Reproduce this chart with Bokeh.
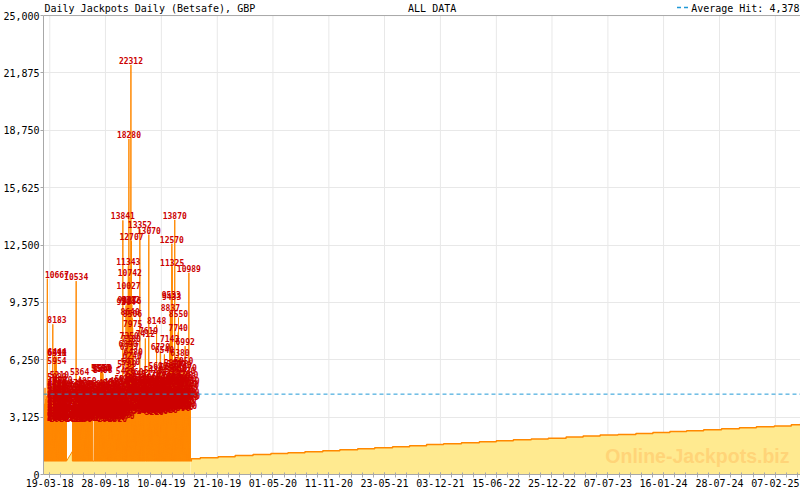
import numpy as np
import pandas as pd
from bokeh.core.properties import value
from bokeh.embed import file_html
from bokeh.models import (ColumnDataSource, DatetimeTickFormatter, FixedTicker,
                          Label, NumeralTickFormatter, Range1d, Span)
from bokeh.plotting import figure
from bokeh.resources import INLINE

#===========================
#       Data
seed = 730          # value the jackpot restarts from after a hit
avg_hit = 4378

#-- daily hits, one value per day starting at the segment date
seg_a_start = "2018-02-27"
seg_a_hits = [
    3120, 3850, 3560, 4720, 2980, 4110, 3430, 2870, 4260, 3190,
    3680, 10667, 3040, 4490, 3310, 2910, 5080, 3870, 3250, 2840,
    4010, 3480, 4630, 3150, 4320, 2950, 3620, 4180, 2890, 3930,
    8183, 3300, 4540, 3070, 4760, 3410, 4060, 6444, 6391, 3740,
    5954, 3220, 6418, 3820, 2860, 4850, 3530, 4230, 3010, 4370,
    3160, 3970, 2820, 5210, 3380, 3710, 2960, 4140, 3590, 4690,
    3090, 4280, 2880, 3880, 3460, 4930, 3200, 3760, 3330, 4420,
    2930, 4090, 3610, 4580, 3050, 3950, 3400, 4210,
]

#-- no hit for three weeks, the jackpot creeps up
gap_dates = ["2018-05-16", "2018-06-05"]
gap_values = [730, 1250]

seg_b_start = "2018-06-06"
seg_b_hits = [
    3510, 4040, 2900, 4530, 3240, 3870, 3350, 4660, 2810, 3990,
    3420, 4150, 10534, 3020, 4410, 3560, 3780, 3150, 4790, 3290,
    3910, 2850, 4300, 3210, 5364, 3640, 2970, 4220, 3370, 4080,
    3080, 4610, 3470, 3820, 2830, 4350, 3260, 3960, 3140, 4720,
    3390, 3720, 2920, 4460, 3230, 3890, 3510, 4270, 3010, 4850,
    3300, 3750, 3580, 4120, 2880, 4380, 3170, 3990, 3440, 4650,
    3110, 3860, 3340, 4190, 2860, 4510, 3490, 3790, 3220,
]

seg_c_start = "2018-08-20"
seg_c_hits = [
    3190, 3820, 2990, 4340, 3310, 3680, 4690, 3070, 4060, 3470,
    4210, 2870, 3910, 3360, 4580, 3140, 3750, 3540, 4400, 2960,
    3980, 3620, 5556, 3840, 5581, 3290, 5534, 4510, 5569, 3430,
    5498, 3700, 3030, 4290, 3250, 4090, 2880, 4620, 3480, 3870,
    3160, 4450, 3380, 3780, 2800, 4170, 3590, 4760, 3090, 3940,
    3330, 4360, 2990, 4030, 3510, 4640, 3200, 3660, 3410, 4230,
    2850, 4520, 3280, 3980, 3620, 4810, 3120, 3810, 3490, 4290,
    3050, 4140, 3360, 4700, 2940, 3730, 3570, 4420, 3250, 4060,
    2820, 4260, 3450, 3860, 3190, 4880, 3330, 3750, 3660, 4470,
    3130, 3980, 3520, 4600, 3000, 4210, 3390, 3900, 3600, 13841,
    3270, 4390, 3110, 5010, 3540, 3790, 2970, 4320, 5420, 4000,
    9204, 4530, 3420, 5780, 9287, 4960, 4210, 6890, 11343, 10027,
    18280, 7350, 6717, 10742, 8640, 5910, 9312, 22312, 7180, 12707,
    9256, 6240, 8506, 7975, 4830, 6480, 4450, 5360, 3760, 4920,
    3620, 4280, 4700, 3400, 4170, 5240, 3510, 4510, 3890, 5030,
    3320, 4420, 3740, 4860, 3570, 4350, 3990, 4620, 13352, 4090,
    3470, 4730, 3850, 4260, 3240, 5120, 3660, 4470, 3400, 3960,
    4780, 3610, 4180, 3350, 4400, 4930, 3770, 7412, 3530, 4310,
]

seg_d_start = "2019-02-18"
seg_d_hits = [
    3940, 3520, 4810, 3700, 3360, 4530, 7619, 13070, 4040, 4750,
    3420, 4230, 4960, 3590, 4450, 3290, 5270, 3900, 3500, 4160,
    4610, 3380, 4090, 5480, 3620, 4320, 3210, 4840, 3780, 4470,
    3480, 5020, 3930, 3330, 8148, 4180, 4690, 3550, 4260, 5690,
    3250, 4400, 3770, 4910, 3430, 4540, 3890, 6720, 3510, 4640,
    4030, 3390, 5170, 3810, 4420, 3300, 4800, 3690, 4290, 3600,
    4940, 6540, 3900, 3460, 4550, 5100, 3360, 4210, 4730, 3710,
    3570, 5420, 3970, 4350, 3320, 4860, 4110, 5640, 3490, 7143,
    4280, 4880, 8837, 3770, 5310, 9533, 9433, 12570, 11325, 4550,
    5020, 3850, 5870, 3520, 4690, 4220, 5540, 13870, 4010, 4830,
    3440, 4460, 5800, 3970, 5090, 3620, 4300, 5610, 3800, 7740,
    8550, 4160, 4950, 3510, 4510, 6380, 3910, 5220, 3390, 4390,
    4770, 3710, 5730, 4210, 3560, 5040, 3980, 4600, 5950, 3460,
    4340, 4880, 3780, 6992, 4170, 5430, 3600, 4270, 4970, 3860,
    5570, 3520, 4710, 4110, 4490, 5200, 10989, 3980, 4640, 4290,
    4850, 4070,
]

#-- last hit in July 2019: since then the jackpot only grows
grow_dates = [
    "2019-07-20", "2019-07-23", "2019-08-23", "2019-10-24", "2019-12-22",
    "2020-02-22", "2020-04-24", "2020-06-22", "2020-08-20", "2020-10-21",
    "2020-12-19", "2021-02-19", "2021-04-19", "2021-06-20", "2021-08-18",
    "2021-10-16", "2021-12-14", "2022-02-14", "2022-04-17", "2022-06-15",
    "2022-08-13", "2022-10-14", "2022-12-12", "2023-02-12", "2023-04-12",
    "2023-06-10", "2023-08-11", "2023-10-12", "2023-12-10", "2024-02-07",
    "2024-04-05", "2024-06-03", "2024-08-04", "2024-10-05", "2024-12-03",
    "2025-02-03", "2025-04-03", "2025-05-05",
]
grow_values = [
    730, 857, 912, 966, 1037,
    1092, 1146, 1185, 1239, 1294,
    1348, 1403, 1457, 1512, 1567,
    1638, 1676, 1730, 1785, 1840,
    1894, 1927, 1981, 2036, 2091,
    2145, 2183, 2238, 2293, 2347,
    2385, 2440, 2494, 2549, 2604,
    2636, 2713, 2767,
]

tick_dates = [
    "2018-03-19", "2018-09-28", "2019-04-10", "2019-10-21", "2020-05-01",
    "2020-11-11", "2021-05-23", "2021-12-03", "2022-06-15", "2022-12-25",
    "2023-07-07", "2024-01-16", "2024-07-28", "2025-02-07",
]
y_ticks = [0, 3125, 6250, 9375, 12500, 15625, 18750, 21875, 25000]
y_max = 25000
x_start = "2018-02-25 05:00"
x_end = "2025-05-05 00:00"

#===========================
#       Colours / fonts
ORANGE = "#FF8800"
YELLOW = "#FFEA90"
RED = "#CC0000"
BLUE = "#2099D6"
GREY = "#A8A8A8"
GRID = "#E8E8E8"
MONO = "DejaVu Sans Mono"
DAY = 86400000.0
FRAME_W = 760
Y_PX = y_max / 458.0     # value units per pixel


def to_ms(dates):
    return pd.DatetimeIndex(pd.to_datetime(dates, format="mixed")).as_unit("ns").asi8 / 1e6


x0, x1 = to_ms([x_start, x_end])
ms_px = (x1 - x0) / FRAME_W

#-- hits placed at noon of their day
hit_x, hit_y = [], []
saw_x, saw_y = [], []


def add_hits(start, vals):
    days = to_ms(pd.date_range(start, periods=len(vals), freq="D")) + 0.5 * DAY
    for x, v in zip(days, vals):
        hit_x.append(x)
        hit_y.append(v)
        #-- the jackpot climbs from the seed to the hit, then drops back
        saw_x.extend([x - 0.9 * DAY, x, x + 0.05 * DAY])
        saw_y.extend([seed, v, seed])


add_hits(seg_a_start, seg_a_hits)
saw_x.extend(to_ms(gap_dates))
saw_y.extend(gap_values)
add_hits(seg_b_start, seg_b_hits)
add_hits(seg_c_start, seg_c_hits)
add_hits(seg_d_start, seg_d_hits)

grow_x = to_ms(grow_dates)

#-- keep value labels inside the plot area
lbl_x = [max(x, x0 + 13.5 * ms_px) for x in hit_x]
lbl_src = ColumnDataSource(data=dict(
    x=lbl_x, y=hit_y, t=[str(v) for v in hit_y]))

#===========================
#       Figure (header row lives inside the frame, above y_max)
p = figure(
    width=800, height=490,
    x_axis_type="datetime",
    x_range=Range1d(x0, x1), y_range=Range1d(0, y_max + 15 * Y_PX),
    output_backend="svg", toolbar_location=None,
    min_border_left=40, min_border_right=0,
    min_border_top=0, min_border_bottom=16,
)
p.background_fill_color = "white"
p.border_fill_color = "white"
p.outline_line_color = None

tick_ms = to_ms(tick_dates)
p.xgrid.visible = False
p.segment(x0=tick_ms, y0=0, x1=tick_ms, y1=y_max, line_color=GRID, line_width=1)

p.varea(x=saw_x, y1=0, y2=saw_y, fill_color=YELLOW)
p.varea_step(x=grow_x, y1=0, y2=grow_values, step_mode="after", fill_color=YELLOW)
p.line(saw_x, saw_y, line_color=ORANGE, line_width=1)
p.step(grow_x, grow_values, mode="after", line_color=ORANGE, line_width=1.5)

p.text(x="x", y="y", text="t", source=lbl_src,
       text_font=value(MONO), text_font_size="8px", text_font_style="bold",
       text_color=RED, text_align="center", text_baseline="bottom", y_offset=-1)

p.add_layout(Span(location=avg_hit, dimension="width",
                  line_color=BLUE, line_dash="4 3", line_width=1))
p.add_layout(Span(location=y_max, dimension="width", line_color=GREY, line_width=1))

#-- header texts
p.add_layout(Label(x=x0, y=y_max, text="Daily Jackpots Daily (Betsafe), GBP",
                   text_font=MONO, text_font_size="10px", text_color="black",
                   text_baseline="bottom", x_offset=1, y_offset=2))
p.add_layout(Label(x=x0 + 366 * ms_px, y=y_max, text="ALL DATA",
                   text_font=MONO, text_font_size="10px", text_color="black",
                   text_baseline="bottom", y_offset=2))
p.add_layout(Label(x=x1, y=y_max, text="Average Hit: {:,}".format(avg_hit),
                   text_font=MONO, text_font_size="10px", text_color="black",
                   text_align="right", text_baseline="bottom", x_offset=-1, y_offset=2))
#-- legend sample for the average line
p.segment(x0=[x1 - 124 * ms_px], y0=[y_max + 8 * Y_PX],
          x1=[x1 - 111 * ms_px], y1=[y_max + 8 * Y_PX],
          line_color=BLUE, line_width=1.5, line_dash="4 3")

#-- watermark
p.add_layout(Label(x=x1, y=0, text="Online-Jackpots.biz",
                   text_font="Liberation Sans", text_font_style="bold",
                   text_font_size="19.5px", text_color="#FFD478",
                   text_align="right", x_offset=-11, y_offset=8))

#===========================
#       Axes
step = (tick_ms[1] - tick_ms[0]) / 5
minor = []
for a, b in zip(tick_ms[:-1], tick_ms[1:]):
    minor.extend(np.linspace(a, b, 6)[:-1])
m = tick_ms[-1]
while m < x1:
    minor.append(m)
    m += step

p.xaxis.ticker = FixedTicker(ticks=list(tick_ms), minor_ticks=minor)
fmt = "%d-%m-%y"
p.xaxis.formatter = DatetimeTickFormatter(
    milliseconds=fmt, seconds=fmt, minsec=fmt, minutes=fmt, hourmin=fmt,
    hours=fmt, days=fmt, months=fmt, years=fmt)
p.yaxis.ticker = FixedTicker(ticks=y_ticks)
p.yaxis.formatter = NumeralTickFormatter(format="0,0")
p.yaxis.bounds = (0, y_max)

p.axis.major_label_text_font = MONO
p.axis.major_label_text_font_size = "10px"
p.axis.major_label_text_color = "black"
p.axis.axis_line_color = GREY
p.axis.major_tick_line_color = GREY
p.axis.minor_tick_line_color = GREY

p.xaxis.major_tick_in = 2
p.xaxis.major_tick_out = 3
p.xaxis.minor_tick_in = 2
p.xaxis.minor_tick_out = 3
p.xaxis.major_label_standoff = 1

p.yaxis.major_tick_in = 0
p.yaxis.major_tick_out = 3
p.yaxis.minor_tick_in = 0
p.yaxis.minor_tick_out = 0
p.yaxis.major_label_standoff = 1

p.ygrid.grid_line_color = GRID

open("out.html", "w").write(file_html(p, INLINE))
